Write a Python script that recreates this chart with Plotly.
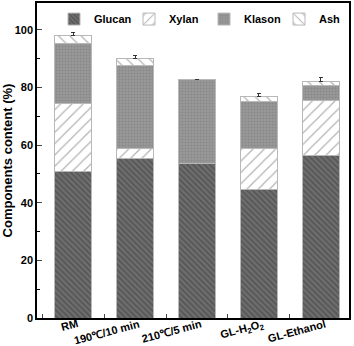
import plotly.graph_objects as go

categories = ["RM", "190℃/10 min", "210℃/5 min", "GL-H<sub>2</sub>O<sub>2</sub>", "GL-Ethanol"]
glucan = [50.8, 55.4, 53.6, 44.7, 56.5]
xylan = [23.5, 3.4, 0.0, 14.1, 18.9]
klason = [21.0, 28.8, 29.0, 16.3, 5.3]
ash = [2.6, 2.4, 0.0, 1.7, 1.5]
glucan_err = [0.3, 0.3, 0.2, 0.3, 0.2]
xylan_err = [0.6, 0.4, 0.0, 0.4, 0.3]
klason_err = [0.4, 0.4, 0.2, 0.4, 0.5]
ash_err = [1.0, 1.1, 0.0, 1.0, 1.1]

FONT = "Liberation Sans, Arial, sans-serif"
x = list(range(len(categories)))

def bar(name, vals, errs, shape, bg, fg, size, solidity):
    return go.Bar(
        name=name, x=x, y=vals,
        width=0.6,
        marker=dict(
            color=bg,
            line=dict(color="#b8b8b8", width=1),
            pattern=dict(shape=shape, bgcolor=bg, fgcolor=fg, size=size, solidity=solidity, fillmode="overlay"),
        ),
        error_y=dict(type="data", array=errs, arrayminus=[0]*len(errs), symmetric=False,
                     color="#333333", thickness=1, width=2),
    )

fig = go.Figure()
fig.add_trace(bar("Glucan", glucan, glucan_err, "\\", "#6e6e6e", "#3a3a3a", 4, 0.4))
fig.add_trace(bar("Xylan", xylan, xylan_err, "/", "#ffffff", "#666666", 8, 0.15))
fig.add_trace(bar("Klason", klason, klason_err, ".", "#9c9c9c", "#7a7a7a", 3, 0.5))
fig.add_trace(bar("Ash", ash, ash_err, "\\", "#ffffff", "#666666", 8, 0.15))

# category labels as rotated annotations anchored at each category position
for i, c in enumerate(categories):
    fig.add_annotation(
        x=i, xref="x", y=0, yref="paper",
        text="<b>%s</b>" % c, textangle=-15,
        xanchor="right", yanchor="top", xshift=7, yshift=2,
        showarrow=False, borderpad=0, font=dict(size=11, family=FONT, color="black"),
    )

fig.update_layout(
    barmode="stack",
    width=354, height=346,
    margin=dict(l=37, r=2, t=3, b=28),
    paper_bgcolor="white", plot_bgcolor="white",
    font=dict(family=FONT, size=11, color="black"),
    showlegend=True,
    legend=dict(orientation="h", x=0.08, xanchor="left", y=0.995, yanchor="top",
                bgcolor="rgba(0,0,0,0)", font=dict(size=11, family=FONT, weight="bold"),
                itemwidth=30, entrywidth=30, entrywidthmode="pixels",
                tracegroupgap=0, traceorder="normal"),
    xaxis=dict(
        range=[-0.59, 4.46],
        tickmode="array", tickvals=[-0.5, 0.5, 1.5, 2.5, 3.5], ticktext=[""] * 5,
        ticks="inside", ticklen=4,
        showline=True, linecolor="black", linewidth=1.5, mirror=True,
        showgrid=False, zeroline=False,
    ),
    yaxis=dict(
        range=[0, 109.3],
        tickmode="array", tickvals=[0, 20, 40, 60, 80, 100],
        ticktext=["<b>%d</b>" % v for v in [0, 20, 40, 60, 80, 100]],
        ticks="inside", ticklen=5,
        minor=dict(ticks="inside", ticklen=3, tickvals=[10, 30, 50, 70, 90], tickcolor="black"),
        showline=True, linecolor="black", linewidth=1.5, mirror=True,
        showgrid=False, zeroline=False,
        title=dict(text="<b>Components content (%)</b>", font=dict(size=13, family=FONT), standoff=3),
        tickfont=dict(size=11, family=FONT),
    ),
)

fig.write_html("out.html", config={"displayModeBar": False},
               post_script="document.body.style.margin='0px';")
